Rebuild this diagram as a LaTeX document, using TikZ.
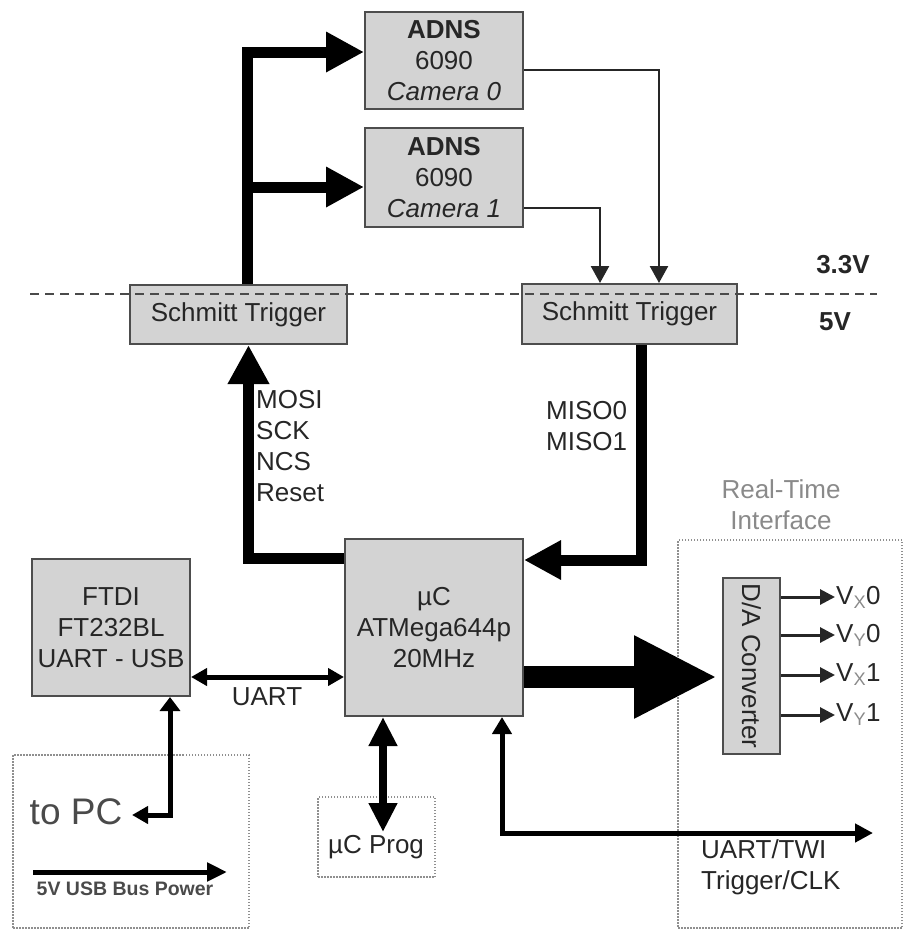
\documentclass[tikz,border=0pt]{standalone}
\usepackage{fontspec}
\setmainfont{Liberation Sans}
\usetikzlibrary{arrows.meta,calc}
\definecolor{boxgray}{HTML}{D3D3D3}
\definecolor{edgegray}{HTML}{4D4D4D}
\definecolor{txt}{HTML}{262626}
\definecolor{dotgray}{HTML}{8F8F8F}
\definecolor{lightlbl}{HTML}{8A8A8A}
\definecolor{dashgray}{HTML}{4A4A4A}
\begin{document}
\begin{tikzpicture}[x=1pt,y=-1pt,
  every node/.style={font=\fontsize{26}{31}\selectfont, text=txt},
  blk/.style={draw=edgegray, fill=boxgray, line width=2pt, inner sep=0pt, align=center},
  dotbox/.style={draw=dotgray, line width=1.5pt, dash pattern=on 1.5pt off 1.5pt},
  lbl/.style={inner sep=0pt},
  bus/.style={draw=black, line width=11pt},
  bushead/.style={-{Triangle[length=38pt,width=38pt]}},
  thin/.style={draw=txt, line width=2.5pt, -{Triangle[length=17pt,width=18pt]}},
  medium/.style={draw=black, line width=5pt},
  outarrow/.style={draw=txt, line width=3pt, -{Triangle[length=15pt,width=15pt]}}
]
\useasboundingbox (0,0) rectangle (904,930);

% dotted frames
\node[dotbox, minimum width=224pt, minimum height=388pt] (rti) at (790,734) {};
\node[dotbox, minimum width=236pt, minimum height=173pt] (pcbox) at (131,841.5) {};
\node[dotbox, minimum width=117pt, minimum height=80pt] (prog) at (376.5,837) {};

% blocks
\node[blk, minimum width=158pt, minimum height=97pt] (cam0) at (444,60.5) {\textbf{ADNS}\\6090\\\textit{Camera 0}};
\node[blk, minimum width=158pt, minimum height=99pt] (cam1) at (444,177.5) {\textbf{ADNS}\\6090\\\textit{Camera 1}};
\node[blk, minimum width=217pt, minimum height=59pt] (st1) at (238.5,314.5) {Schmitt Trigger};
\node[blk, minimum width=215pt, minimum height=60pt] (st2) at (629.5,314) {Schmitt Trigger};
\node[blk, minimum width=178pt, minimum height=177pt] (uc) at (434,627.5) {µC\\ATMega644p\\20MHz};
\node[blk, minimum width=158pt, minimum height=137pt] (ftdi) at (111,627.5) {FTDI\\FT232BL\\UART - USB};
\node[blk, minimum width=57pt, minimum height=176pt] (da) at (751.5,666) {};
\node[lbl, rotate=-90] (datxt) at (da.center) {D/A Converter};

% labels
\node[lbl, font=\bfseries\fontsize{26}{31}\selectfont] (v33) at (843,265) {3.3V};
\node[lbl, font=\bfseries\fontsize{26}{31}\selectfont] (v5) at (835,322) {5V};
\node[lbl, align=left, anchor=west] (mosil) at (256,446) {MOSI\\SCK\\NCS\\Reset};
\node[lbl, align=left, anchor=west] (misol) at (546,426) {MISO0\\MISO1};
\node[lbl] (uartl) at (267,697) {UART};
\node[lbl, align=left, anchor=west] (trigl) at (701,867) {UART/TWI\\Trigger/CLK};
\node[lbl, align=center, text=lightlbl] (rtil) at (781,505) {Real-Time\\Interface};
\node[lbl, font=\fontsize{37}{40}\selectfont, text=dashgray] (topc) at (76,812) {to PC};
\node[lbl, font=\bfseries\fontsize{19.5}{22}\selectfont, text=dashgray] (usbl) at (125,889) {5V USB Bus Power};
\node[lbl, inner sep=1pt, anchor=west] (vx0) at (835,597) {V\textsubscript{\color{lightlbl}X}0};
\node[lbl, inner sep=1pt, anchor=west] (vy0) at (835,635) {V\textsubscript{\color{lightlbl}Y}0};
\node[lbl, inner sep=1pt, anchor=west] (vx1) at (835,675) {V\textsubscript{\color{lightlbl}X}1};
\node[lbl, inner sep=1pt, anchor=west] (vy1) at (835,715) {V\textsubscript{\color{lightlbl}Y}1};
\node[lbl, text=txt] (progl) at (376,847) {µC Prog};

% helper coordinates
\coordinate (busb) at ($(st1.north)+(8.5,0)$);
\coordinate (c0in) at ($(cam0.west)+(0,-8.5)$);
\coordinate (c1in) at ($(cam1.west)+(0,9.5)$);
\coordinate (mosiS) at ($(st1.south)+(10,0)$);
\coordinate (mosiU) at ($(uc.west)+(0,-69.5)$);
\coordinate (misoS) at ($(st2.south)+(11.5,0)$);
\coordinate (misoU) at ($(uc.east)+(0,-67.5)$);
\coordinate (c0out) at ($(cam0.east)+(0,9.5)$);
\coordinate (c1out) at ($(cam1.east)+(0,30.5)$);
\coordinate (t0in) at ($(st2.north)+(29.5,0)$);
\coordinate (t1in) at ($(st2.north)+(-29.5,0)$);
\coordinate (uartA) at ($(ftdi.east)+(0,49.5)$);
\coordinate (uartB) at (uc.west |- uartA);
\coordinate (ftdiB) at ($(ftdi.south)+(59,0)$);
\coordinate (pcend) at (132,815);
\coordinate (usbA) at (33,872);
\coordinate (usbB) at (227,872);
\coordinate (progA) at ($(uc.south)+(-51,0)$);
\coordinate (progend) at (383,832);
\coordinate (trigA) at ($(uc.south)+(68,0)$);
\coordinate (trigend) at (873,833);
\coordinate (bigA) at ($(uc.east)+(0,49.5)$);
\coordinate (bigB) at ($(da.west |- bigA)+(-5,0)$);
\coordinate (dl1) at (30,294);
\coordinate (dl2) at (877,294);

% thick SPI buses
\draw[bus, bushead] (busb) |- (c0in);
\draw[bus, bushead] (busb |- c1in) -- (c1in);
\draw[bus, -{Triangle[length=39pt,width=39pt]}] (mosiU) -| (mosiS);
\draw[bus, -{Triangle[length=37pt,width=37pt]}] (misoS) |- (misoU);

% thin camera outputs
\draw[thin] (c0out) -| (t0in);
\draw[thin] (c1out) -| (t1in);

% UART etc.
\draw[medium, {Triangle[length=16pt,width=17pt]}-{Triangle[length=16pt,width=17pt]}] (uartA) -- (uartB);
\draw[medium, {Triangle[length=14pt,width=20pt]}-{Triangle[length=16pt,width=17pt]}] (ftdiB) |- (pcend);
\draw[medium, -{Triangle[length=20pt,width=18pt]}] (usbA) -- (usbB);
\draw[draw=black, line width=8pt, {Triangle[length=29pt,width=27pt]}-{Triangle[length=29pt,width=27pt]}] (progA) -- (progend);
\draw[medium, {Triangle[length=17pt,width=19pt]}-{Triangle[length=18pt,width=18pt]}] (trigA) |- (trigend);
\draw[draw=black, line width=22pt, -{Triangle[length=83pt,width=77pt]}] (bigA) -- (bigB);

% D/A outputs
\draw[outarrow] (da.east |- vx0.west) -- (vx0.west);
\draw[outarrow] (da.east |- vy0.west) -- (vy0.west);
\draw[outarrow] (da.east |- vx1.west) -- (vx1.west);
\draw[outarrow] (da.east |- vy1.west) -- (vy1.west);

% voltage domain line
\draw[draw=dashgray, line width=2.8pt, dash pattern=on 9pt off 6pt] (dl1) -- (dl2);
\end{tikzpicture}
\end{document}
